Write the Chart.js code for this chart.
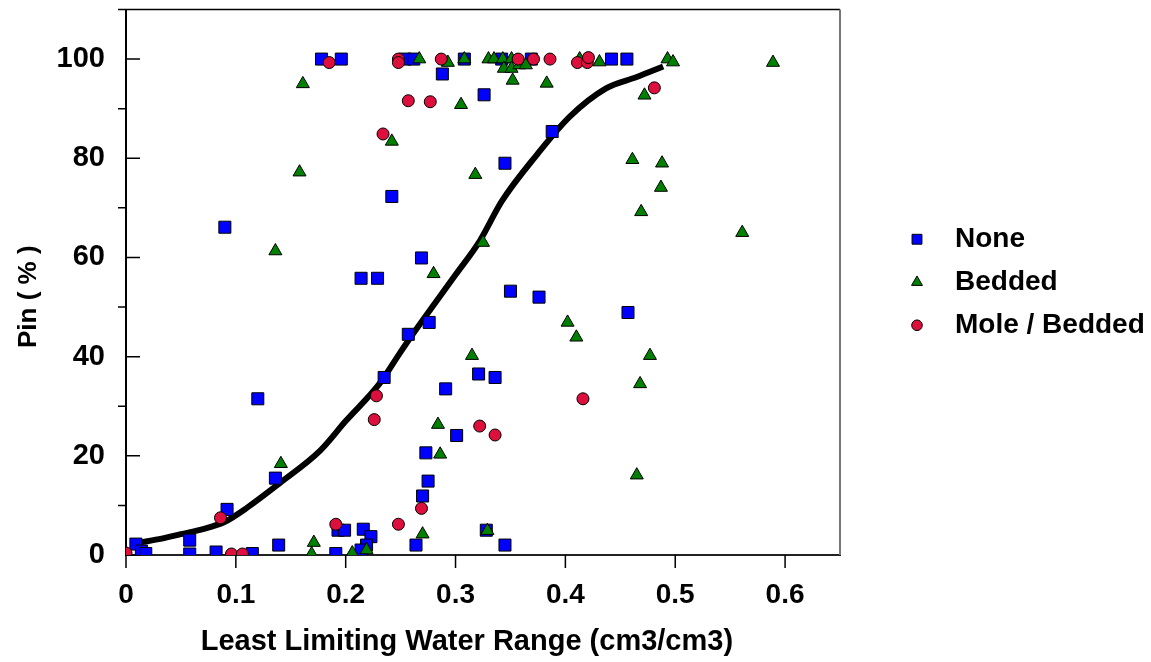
<!DOCTYPE html>
<html>
<head>
<meta charset="utf-8">
<script src="https://cdn.jsdelivr.net/npm/chart.js@4.4.1/dist/chart.umd.min.js"></script>
<style>
	body { margin: 0; background: #fff; }
</style>
</head>
<body>
<canvas id="pinChart" width="1151" height="662"></canvas>
<script>
// values
const seriesNames = ["None", "Bedded", "Mole / Bedded"];

const noneX = [0.009, 0.014, 0.018, 0.058, 0.058, 0.082, 0.092, 0.090, 0.115, 0.120, 0.136, 0.139,
	0.178, 0.196, 0.191, 0.193, 0.199, 0.214, 0.229, 0.216, 0.223, 0.219, 0.214,
	0.242, 0.235, 0.254, 0.262, 0.257, 0.269, 0.276, 0.288, 0.291, 0.301, 0.273, 0.275, 0.270, 0.264,
	0.328, 0.345, 0.308, 0.326, 0.321, 0.336, 0.345, 0.350, 0.376, 0.388, 0.342, 0.369, 0.457, 0.442, 0.456];
const noneY = [2.2, 0.8, 0.3, 3.0, 0.2, 0.6, 9.2, 66.1, 0.3, 31.5, 15.5, 2.0,
	100, 100, 0.3, 5.0, 5.0, 55.8, 55.8, 5.2, 3.7, 2.0, 1.0,
	72.3, 35.8, 100, 100, 44.5, 59.9, 46.9, 97.0, 33.5, 24.1, 20.6, 14.9, 11.9, 2.0,
	5.0, 2.0, 100, 92.8, 36.5, 35.8, 79.0, 53.2, 52.0, 85.4, 100, 100, 48.9, 100, 100];

const beddedX = [0.169, 0.171, 0.206, 0.219, 0.141, 0.136, 0.158, 0.161, 0.242,
	0.267, 0.293, 0.305, 0.308, 0.318, 0.280, 0.325, 0.402, 0.410, 0.469, 0.561, 0.477, 0.468, 0.315,
	0.284, 0.286, 0.270, 0.329, 0.465, 0.461, 0.488, 0.487, 0.472, 0.493, 0.498, 0.589, 0.431, 0.413,
	0.383, 0.352, 0.330, 0.335, 0.343, 0.344, 0.351, 0.351, 0.358, 0.364];
const beddedY = [0.2, 2.5, 0.4, 1.0, 18.4, 61.3, 77.2, 95.0, 83.4,
	100, 99.3, 90.8, 100, 76.7, 56.7, 63.0, 46.9, 43.9, 69.2, 65.0, 40.2, 34.5, 40.2,
	26.3, 20.3, 4.2, 4.9, 16.1, 79.7, 79.0, 74.1, 92.7, 100, 99.4, 99.3, 99.4, 100,
	95.1, 95.7, 100, 100, 100, 98.1, 100, 98.1, 98.8, 98.8];

const moleX = [0.000, 0.086, 0.096, 0.106, 0.191, 0.185, 0.234, 0.228, 0.226,
	0.248, 0.248, 0.257, 0.277, 0.287, 0.357, 0.371, 0.386, 0.411, 0.420, 0.421, 0.481,
	0.322, 0.336, 0.269, 0.248, 0.416];
const moleY = [0.4, 7.5, 0.2, 0.2, 6.2, 99.3, 84.9, 32.1, 27.3,
	100, 99.3, 91.6, 91.4, 100, 100, 100, 100, 99.3, 99.3, 100.3, 94.2,
	26.0, 24.2, 9.4, 6.2, 31.5];

// fitted curve
const curveX = [0.007, 0.03, 0.05, 0.07, 0.09, 0.11, 0.14, 0.177, 0.2, 0.231, 0.249, 0.261,
	0.3, 0.322, 0.342, 0.374, 0.404, 0.437, 0.465, 0.489];
const curveY = [2.3, 3.2, 4.2, 5.2, 6.7, 9.5, 14.5, 21.1, 27, 34.6, 40.6, 44.5,
	56.5, 63.3, 71.3, 80.7, 88.4, 94.1, 96.4, 98.5];

const xTicks = [0, 0.1, 0.2, 0.3, 0.4, 0.5, 0.6];
const xTickLabels = ["0", "0.1", "0.2", "0.3", "0.4", "0.5", "0.6"];
const yTicks = [0, 20, 40, 60, 80, 100];
const yMinorTicks = [10, 30, 50, 70, 90, 110];

const fontFamily = "'Liberation Sans', Arial, sans-serif";

function toPoints(xs, ys) {
	let pts = [];
	for (let i = 0; i < xs.length; i++) {
		pts.push({ x: xs[i], y: ys[i] });
	}
	return pts;
}

const markerStyles = [
	{ pointStyle: "rect", color: "#0000ff", radius: 8.5, legendRadius: 7 },
	{ pointStyle: "triangle", color: "#008000", radius: 7.5, legendRadius: 6.3 },
	{ pointStyle: "circle", color: "#dd0f3c", radius: 6, legendRadius: 5.3 },
];

// tick marks and the top / right frame
const frameTicks = {
	id: "frameTicks",
	beforeDatasetsDraw(chart) {
		const { ctx, chartArea, scales } = chart;
		ctx.save();
		ctx.strokeStyle = "#000";
		ctx.lineWidth = 1.5;
		ctx.beginPath();
		yTicks.forEach((v) => {
			const py = scales.y.getPixelForValue(v);
			ctx.moveTo(chartArea.left, py);
			ctx.lineTo(chartArea.left + 14, py);
		});
		yMinorTicks.forEach((v) => {
			const py = scales.y.getPixelForValue(v);
			ctx.moveTo(chartArea.left - 8, py);
			ctx.lineTo(chartArea.left, py);
		});
		xTicks.forEach((v) => {
			const px = scales.x.getPixelForValue(v);
			ctx.moveTo(px, chartArea.bottom);
			ctx.lineTo(px, chartArea.bottom + 13);
		});
		ctx.moveTo(chartArea.left, chartArea.top);
		ctx.lineTo(chartArea.right, chartArea.top);
		ctx.stroke();
		ctx.strokeStyle = "#777";
		ctx.lineWidth = 2;
		ctx.beginPath();
		ctx.moveTo(chartArea.right, chartArea.top);
		ctx.lineTo(chartArea.right, chartArea.bottom);
		ctx.stroke();
		ctx.restore();
	},
};

// legend to the right of the plot
const sideLegend = {
	id: "sideLegend",
	afterDraw(chart) {
		const { ctx, chartArea } = chart;
		const midY = (chartArea.top + chartArea.bottom) / 2;
		ctx.save();
		ctx.font = "bold 28px " + fontFamily;
		ctx.textBaseline = "middle";
		for (let i = 0; i < seriesNames.length; i++) {
			const y = midY + (i - 1) * 43;
			const m = markerStyles[i];
			ctx.fillStyle = m.color;
			ctx.strokeStyle = "#000";
			ctx.lineWidth = 1;
			Chart.helpers.drawPoint(ctx, { pointStyle: m.pointStyle, radius: m.legendRadius, rotation: 0, borderWidth: 1 }, chartArea.right + 77, y);
			ctx.fillStyle = "#000";
			ctx.fillText(seriesNames[i], chartArea.right + 115, y);
		}
		ctx.restore();
	},
};

const ctx = document.getElementById("pinChart");

const seriesX = [noneX, beddedX, moleX];
const seriesY = [noneY, beddedY, moleY];

let datasets = [];
for (let i = 0; i < seriesNames.length; i++) {
	datasets.push({
		label: seriesNames[i],
		data: toPoints(seriesX[i], seriesY[i]),
		pointStyle: markerStyles[i].pointStyle,
		pointRadius: markerStyles[i].radius,
		backgroundColor: markerStyles[i].color,
		borderColor: "#000",
		borderWidth: 1,
		order: 3 - i,
		clip: 0,
	});
}
datasets.push({
	label: "fit",
	data: toPoints(curveX, curveY),
	showLine: true,
	pointRadius: 0,
	borderColor: "#000",
	borderWidth: 6,
	cubicInterpolationMode: "monotone",
	order: 5,
});

new Chart(ctx, {
	type: "scatter",
	data: { datasets: datasets },
	options: {
		responsive: false,
		animation: false,
		events: [],
		layout: { padding: { top: 7, right: 311, bottom: 0, left: 0 } },
		plugins: {
			legend: { display: false },
			tooltip: { enabled: false },
		},
		scales: {
			x: {
				type: "linear",
				min: 0,
				max: 0.65,
				afterBuildTicks: (s) => { s.ticks = xTicks.map((v) => ({ value: v })); },
				afterFit: (s) => {
					s.height = 107;
					s.paddingLeft = 0;
					s.paddingRight = 0;
				},
				grid: { display: true, drawOnChartArea: false, drawTicks: false },
				border: { display: true, color: "#222", width: 2 },
				ticks: {
					callback: (v, i) => xTickLabels[i],
					color: "#000",
					font: { family: fontFamily, size: 28, weight: "bold" },
					padding: 23,
					autoSkip: false,
					maxRotation: 0,
				},
				title: {
					display: true,
					text: "Least Limiting Water Range (cm3/cm3)    ",
					color: "#000",
					font: { family: fontFamily, size: 29, weight: "bold" },
					padding: { top: 0, bottom: 3 },
				},
			},
			y: {
				type: "linear",
				min: 0,
				max: 110,
				afterBuildTicks: (s) => { s.ticks = yTicks.map((v) => ({ value: v })); },
				afterFit: (s) => {
					s.width = 126;
					s.paddingTop = 0;
					s.paddingBottom = 0;
				},
				grid: { display: true, drawOnChartArea: false, drawTicks: false },
				border: { display: true, color: "#000", width: 2 },
				ticks: {
					callback: (v) => String(v),
					color: "#000",
					font: { family: fontFamily, size: 29, weight: "bold" },
					padding: 21,
				},
				title: {
					display: true,
					text: "Pin ( % )    ",
					color: "#000",
					font: { family: fontFamily, size: 26, weight: "bold" },
					padding: { top: 13, bottom: 0 },
				},
			},
		},
	},
	plugins: [frameTicks, sideLegend],
});
</script>
</body>
</html>
